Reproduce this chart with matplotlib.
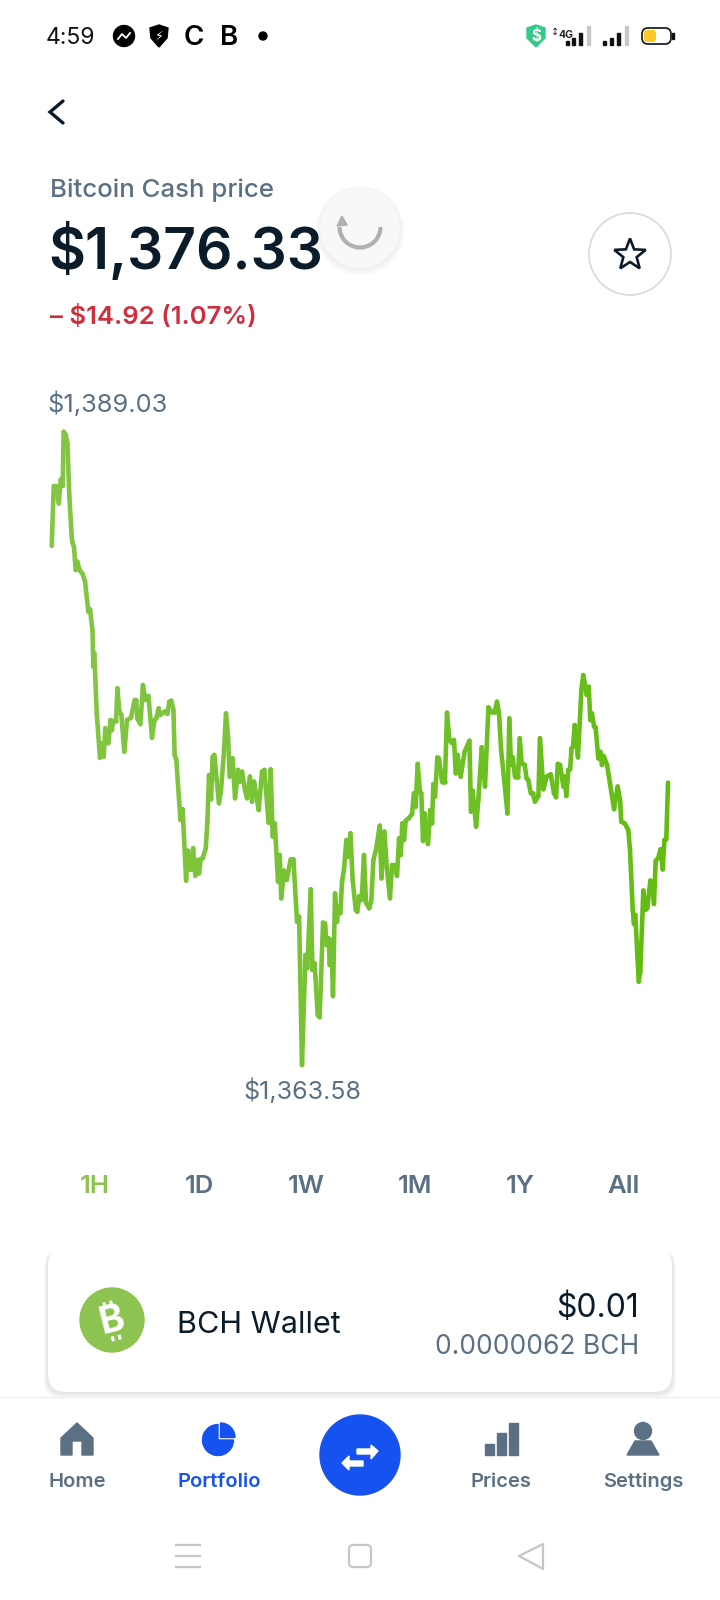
import numpy as np
import matplotlib
matplotlib.use('Agg')
import matplotlib.pyplot as plt
from matplotlib.collections import LineCollection
from matplotlib.colors import LinearSegmentedColormap
from matplotlib.patches import Circle, FancyBboxPatch, Polygon, Wedge, Arc, Rectangle

plt.rcParams['font.family'] = ['Inter', 'DejaVu Sans']

# seconds into the hour and BCH price in dollars
price_seconds = [
    0, 12, 25, 41, 53, 64, 70, 82, 92, 103, 117, 121, 130, 140, 150, 162, 181, 195, 214, 224,
    238, 243, 249, 263, 282, 294, 304, 313, 331, 343, 352, 358, 376, 384, 395, 407, 424, 440, 463, 485,
    493, 500, 518, 533, 547, 565, 586, 600, 611, 625, 635, 660, 676, 687, 699, 711, 718, 728, 752, 765,
    785, 796, 814, 826, 839, 853, 861, 870, 882, 900, 909, 919, 931, 940, 950, 964, 977, 989, 1007, 1018,
    1030, 1040, 1057, 1071, 1088, 1100, 1112, 1129, 1141, 1158, 1170, 1182, 1209, 1229, 1242, 1267, 1279, 1291, 1303, 1322,
    1332, 1341, 1357, 1373, 1396, 1412, 1433, 1445, 1462, 1482, 1493, 1513, 1523, 1536, 1554, 1565, 1585, 1597, 1606, 1618,
    1624, 1634, 1643, 1655, 1667, 1674, 1686, 1696, 1708, 1721, 1731, 1745, 1758, 1776, 1785, 1797, 1811, 1824, 1836, 1855,
    1867, 1879, 1894, 1916, 1926, 1943, 1957, 1976, 1988, 2003, 2017, 2029, 2039, 2048, 2058, 2068, 2085, 2105, 2116, 2126,
    2138, 2151, 2159, 2169, 2179, 2198, 2212, 2222, 2229, 2239, 2253, 2262, 2280, 2297, 2309, 2323, 2336, 2350, 2360, 2371,
    2389, 2412, 2440, 2449, 2459, 2479, 2492, 2512, 2531, 2551, 2568, 2588, 2601, 2613, 2625, 2644, 2662, 2673, 2683, 2693,
    2706, 2724, 2734, 2745, 2763, 2774, 2784, 2798, 2810, 2823, 2843, 2852, 2872, 2891, 2915, 2934, 2946, 2956, 2969, 2989,
    2996, 3006, 3018, 3028, 3037, 3045, 3055, 3074, 3094, 3105, 3117, 3125, 3137, 3146, 3156, 3168, 3177, 3193, 3205, 3214,
    3224, 3244, 3261, 3285, 3306, 3320, 3327, 3347, 3368, 3378, 3394, 3401, 3409, 3429, 3438, 3456, 3468, 3479, 3497, 3507,
    3518, 3528, 3542, 3557, 3569, 3579, 3590, 3600,
]
price_values = [
    1384.44, 1386.85, 1386.85, 1386.15, 1387.11, 1386.85, 1389.03, 1388.90, 1388.56, 1386.42,
    1384.81, 1384.57, 1384.41, 1383.47, 1383.81, 1383.47, 1383.31, 1383.00, 1381.80, 1381.89,
    1381.06, 1379.59, 1380.12, 1377.71, 1375.93, 1376.51, 1375.97, 1377.11, 1376.51, 1377.44,
    1377.04, 1377.42, 1377.42, 1378.72, 1377.78, 1377.65, 1376.17, 1377.44, 1377.54, 1378.25,
    1378.25, 1377.51, 1377.28, 1378.85, 1378.25, 1378.41, 1376.73, 1377.44, 1377.51, 1377.91,
    1377.65, 1377.78, 1377.69, 1378.18, 1378.22, 1377.85, 1376.04, 1375.84, 1373.43, 1373.86,
    1370.99, 1372.19, 1371.42, 1372.29, 1371.18, 1371.82, 1371.28, 1371.85, 1371.89, 1372.29,
    1373.29, 1375.23, 1374.26, 1375.97, 1376.04, 1375.03, 1374.10, 1374.63, 1376.24, 1377.71,
    1376.77, 1375.17, 1375.90, 1374.30, 1375.44, 1374.97, 1375.37, 1374.63, 1374.30, 1375.17,
    1374.16, 1374.97, 1373.83, 1375.37, 1375.44, 1373.32, 1375.46, 1372.76, 1373.29, 1370.95,
    1372.02, 1370.28, 1371.39, 1371.02, 1371.85, 1371.85, 1369.34, 1369.54, 1363.58, 1368.00,
    1367.47, 1370.64, 1367.40, 1367.67, 1365.59, 1365.50, 1369.30, 1369.27, 1368.40, 1368.67,
    1367.60, 1368.60, 1366.35, 1370.48, 1369.34, 1369.94, 1369.68, 1370.95, 1371.48, 1372.62,
    1371.95, 1372.89, 1371.02, 1369.81, 1369.74, 1370.37, 1370.21, 1372.02, 1370.10, 1369.88,
    1370.21, 1371.82, 1372.22, 1373.20, 1371.08, 1372.96, 1371.55, 1370.28, 1371.62, 1371.62,
    1371.18, 1372.69, 1372.02, 1373.29, 1372.62, 1373.40, 1373.49, 1373.67, 1374.50, 1373.96,
    1375.68, 1374.56, 1374.50, 1372.58, 1373.69, 1372.46, 1373.83, 1373.29, 1374.87, 1374.36,
    1375.94, 1375.90, 1374.97, 1374.97, 1377.74, 1376.64, 1376.53, 1376.64, 1375.30, 1376.04,
    1375.17, 1376.17, 1376.61, 1373.76, 1374.60, 1373.16, 1374.23, 1376.35, 1374.77, 1377.95,
    1377.78, 1377.78, 1378.18, 1377.71, 1376.24, 1374.97, 1373.69, 1377.51, 1375.64, 1375.94,
    1375.17, 1375.17, 1376.71, 1375.70, 1375.64, 1375.10, 1375.03, 1374.50, 1374.50, 1374.16,
    1374.39, 1376.71, 1374.66, 1375.17, 1375.26, 1374.50, 1374.34, 1375.68, 1375.64, 1374.77,
    1375.17, 1374.39, 1375.44, 1375.46, 1376.31, 1376.37, 1377.24, 1375.94, 1378.65, 1379.25,
    1378.78, 1378.45, 1378.78, 1377.44, 1377.71, 1377.18, 1377.15, 1375.90, 1376.17, 1375.64,
    1376.00, 1375.64, 1374.90, 1373.86, 1374.77, 1374.23, 1373.36, 1373.29, 1373.02, 1372.22,
    1369.81, 1369.25, 1369.61, 1366.93, 1367.33, 1370.59, 1369.81, 1369.88, 1370.99, 1370.95,
    1370.05, 1371.79, 1371.89, 1372.25, 1371.44, 1372.62, 1372.65, 1374.93,
]
range_labels = ['1H', '1D', '1W', '1M', '1Y', 'All']
nav_labels = ['Home', 'Portfolio', 'Prices', 'Settings']

DARK = '#0A1B2A'
SLATE = '#5B7083'
BLUE = '#1652F0'
LEAF = '#8DC351'

fig = plt.figure(figsize=(7.2, 16), dpi=100, facecolor='white')

# whole-screen axes in pixels for the app chrome
ui = fig.add_axes([0, 0, 1, 1], zorder=1)
ui.set_xlim(0, 720)
ui.set_ylim(1600, 0)
ui.axis('off')

# status bar
ui.text(46, 44, '4:59', fontsize=16.5, color='#111111', va='baseline')
ui.add_patch(Circle((124, 36), 10.5, color='black'))
ui.plot([118, 122, 126, 130], [39, 34, 38, 33], color='white', lw=1.3)
ui.add_patch(Polygon([(150, 28), (159, 25), (168, 28), (167, 38), (159, 47), (151, 38)], color='black'))
ui.text(159, 36, '⚡', fontsize=9, color='white', ha='center', va='center', family='DejaVu Sans')
ui.text(194, 45, 'C', fontsize=20, color='black', ha='center', va='baseline', weight='semibold')
ui.text(229, 45, 'B', fontsize=20, color='black', ha='center', va='baseline', weight='semibold')
ui.add_patch(Circle((263, 36), 4, color='black'))
ui.add_patch(Polygon([(527, 28), (536, 25), (545, 28), (545, 38), (536, 47), (527, 38)], color='#35C98A'))
ui.text(536, 36, '$', fontsize=11, color='white', ha='center', va='center', weight='bold')
ui.text(566, 35, '4G', fontsize=7.5, color='#222222', ha='center', va='center', weight='bold')
ui.text(555, 32, '↕', fontsize=7, color='#222222', ha='center', va='center', family='DejaVu Sans')
for left, top, col in [(566, 41, '#111111'), (572, 38, '#111111'), (579, 33, '#111111'), (587, 26, '#C8C8C8')]:
    ui.add_patch(Rectangle((left, top), 2.5, 45 - top, color=col))
for left, top, col in [(603, 41, '#111111'), (610, 38, '#111111'), (617, 33, '#111111'), (625, 26, '#C8C8C8')]:
    ui.add_patch(Rectangle((left, top), 2.5, 45 - top, color=col))
ui.add_patch(FancyBboxPatch((642, 28), 29, 16, boxstyle='round,pad=0,rounding_size=6', fc='white', ec='#111111', lw=1.2))
ui.add_patch(FancyBboxPatch((644, 30), 12, 12, boxstyle='round,pad=0,rounding_size=3', fc='#FFC928', ec='none'))
ui.add_patch(Rectangle((672, 33), 1.5, 6, color='#111111'))

# back chevron
ui.plot([63, 50, 63], [101, 112, 123], color=DARK, lw=2.4, solid_capstyle='round', solid_joinstyle='miter')

# header text
ui.text(50, 197, 'Bitcoin Cash price', fontsize=18.6, color=SLATE, weight='medium', va='baseline')
ui.text(48.5, 269, '$1,376.33', fontsize=41, color=DARK, weight='semibold', va='baseline')
ui.text(50, 324, '– $14.92 (1.07%)', fontsize=18.5, color='#CF2E3E', weight='semibold', va='baseline')

# refresh spinner
for i in range(6):
    ui.add_patch(Circle((360, 229 + i * 0.4), 40 + i, color='black', alpha=0.012, lw=0))
ui.add_patch(Circle((360, 228), 40, fc='#F8F8F8', ec='none'))
ui.add_patch(Arc((360, 227), 41, 41, theta1=0, theta2=180, color='#B0B0B0', lw=3))
ui.add_patch(Polygon([(342, 216), (337, 226), (347, 225)], color='#B0B0B0'))

# favourite button
ui.add_patch(Circle((630, 254), 41, fc='white', ec='#D8DCDF', lw=1.3))
star_ang = np.pi / 2 + np.arange(10) * np.pi / 5
star_rad = np.where(np.arange(10) % 2 == 0, 16.5, 7)
ui.add_patch(Polygon(np.c_[630 + star_rad * np.cos(star_ang), 255 - star_rad * np.sin(star_ang)],
                     fc='white', ec=DARK, lw=1.9, joinstyle='miter'))

# price chart, the axes span exactly the data range
chart = fig.add_axes([51.7 / 720, 1 - 1065 / 1600, 616.3 / 720, 633.3 / 1600], zorder=2)
chart.set_xlim(0, 3600)
chart.set_ylim(1363.58, 1389.03)
chart.axis('off')
chart.patch.set_alpha(0)
pts = np.column_stack([price_seconds, price_values])
segs = np.stack([pts[:-1], pts[1:]], axis=1)
cmap = LinearSegmentedColormap.from_list('bch', ['#84C544', '#74C22F', '#62BC10'])
line = LineCollection(segs, cmap=cmap, linewidths=3.3, capstyle='round', clip_on=False)
line.set_array(np.array(price_seconds[:-1], dtype=float))
chart.add_collection(line)

ui.text(47.5, 412, '$1,389.03', fontsize=18.3, color=SLATE, va='baseline')
ui.text(243, 1099, '$1,363.58', fontsize=18, color=SLATE, va='baseline')

# time range selector
for label, x in zip(range_labels, [95, 199, 306, 415, 520, 624]):
    col = LEAF if label == '1H' else SLATE
    ui.text(x, 1193, label, fontsize=18.5, color=col, weight='semibold', ha='center', va='baseline')

# wallet card with a soft shadow under it
for i in range(8):
    ui.add_patch(FancyBboxPatch((48 - i * 0.6, 1248 + i * 0.3), 624 + i * 1.2, 144 + i * 0.7,
                                boxstyle='round,pad=0,rounding_size=18', fc='black', ec='none', alpha=0.015))
ui.add_patch(FancyBboxPatch((48, 1247), 624, 145, boxstyle='round,pad=0,rounding_size=18', fc='white', ec='none'))

# bch logo, no installed font has the sign so it is a letter with two ticks
ui.add_patch(Circle((112, 1320), 32, color=LEAF))
ui.text(112, 1321, 'B', fontsize=27, color='white', ha='center', va='center', rotation=14, weight='bold')
tilt = np.deg2rad(14)
for off in [-3.5, 3.5]:
    for sgn in [-1, 1]:
        bx = 112 + off * np.cos(tilt) + sgn * 20 * (-np.sin(tilt))
        by = 1321 + off * np.sin(tilt) * -1 + sgn * 20 * (-np.cos(tilt))
        ex = 112 + off * np.cos(tilt) + sgn * 15 * (-np.sin(tilt))
        ey = 1321 + off * np.sin(tilt) * -1 + sgn * 15 * (-np.cos(tilt))
        ui.plot([bx, ex], [by, ey], color='white', lw=2.2, solid_capstyle='butt')

ui.text(177, 1333, 'BCH Wallet', fontsize=22, color=DARK, va='baseline')
ui.text(639, 1317, '$0.01', fontsize=23, color=DARK, ha='right', va='baseline')
ui.text(639, 1354, '0.0000062 BCH', fontsize=19, color=SLATE, ha='right', va='baseline')

# bottom navigation
ui.plot([0, 720], [1397, 1397], color='#EEF0F2', lw=1)
for label, x in zip(nav_labels, [77, 219, 501, 643]):
    col = BLUE if label == 'Portfolio' else SLATE
    ui.text(x, 1487, label, fontsize=14.5, color=col, weight='semibold', ha='center', va='baseline')

ui.add_patch(Polygon([(61, 1438), (77, 1423), (93, 1438), (93, 1455), (82, 1455), (82, 1441),
                      (72, 1441), (72, 1455), (61, 1455)], color=SLATE))
ui.add_patch(Wedge((218, 1440), 15.5, 0, 270, color=BLUE))
ui.add_patch(Wedge((220.5, 1437.5), 14.5, 270, 360, color=BLUE))
for left, top in [(485, 1444), (497, 1433), (509, 1423)]:
    ui.add_patch(Rectangle((left, top), 8.5, 1455 - top, color=SLATE))
ui.add_patch(Circle((643, 1431), 8.5, color=SLATE))
ui.add_patch(Polygon([(635, 1441), (651, 1441), (659, 1455), (627, 1455)], color=SLATE))

ui.add_patch(Circle((360, 1455), 40, color=BLUE))
ui.add_patch(Polygon([(357, 1449), (371, 1449), (371, 1445), (378, 1451), (371, 1459), (371, 1454), (357, 1454)], color='white'))
ui.add_patch(Polygon([(363, 1461), (349, 1461), (349, 1456), (342, 1463), (349, 1470), (349, 1466), (363, 1466)], color='white'))

# android buttons
for y in [1545, 1556, 1567]:
    ui.plot([176, 200], [y, y], color='#C6C6C6', lw=1.6)
ui.add_patch(FancyBboxPatch((349, 1545), 22, 22, boxstyle='round,pad=0,rounding_size=4', fc='white', ec='#C6C6C6', lw=1.6))
ui.add_patch(Polygon([(543, 1544), (543, 1569), (519, 1556)], fc='white', ec='#C6C6C6', lw=1.6, joinstyle='round'))

fig.savefig('out.png', dpi=100)
